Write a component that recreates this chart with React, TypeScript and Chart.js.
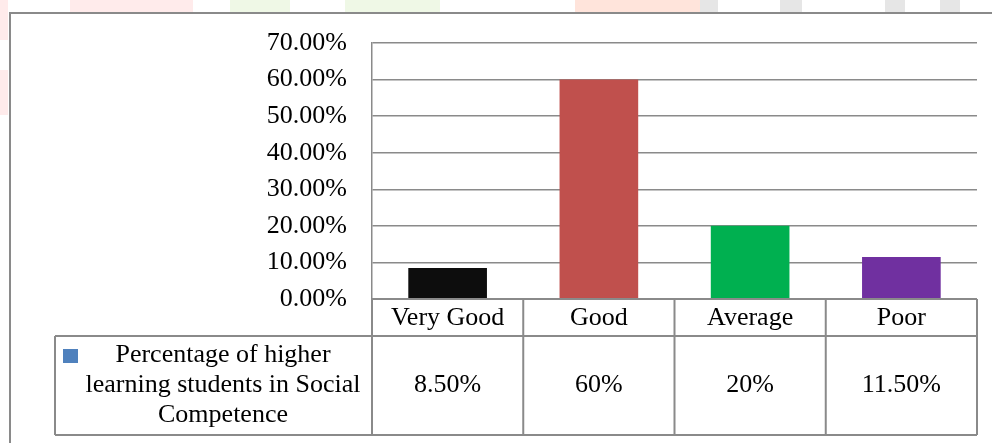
import React, { useEffect, useRef } from 'react';
import { Chart, registerables } from 'chart.js';

Chart.register(...registerables);

const categories = ['Very Good', 'Good', 'Average', 'Poor'];
const values = [8.5, 60, 20, 11.5];
const valueLabels = ['8.50%', '60%', '20%', '11.50%'];
const barColors = ['#0D0D0D', '#C0504D', '#00B050', '#7030A0'];
const seriesNameLines = ['Percentage of higher', 'learning students in Social', 'Competence'];
const seriesKeyColor = '#4F81BD';
const yMax = 70;
const yStep = 10;

const FONT = '"Liberation Serif", "Times New Roman", serif';
const FONT_SIZE = 26;
const LINE = '#8a8a8a';

const tablePlugin = {
  id: 'dataTable',
  beforeDraw(chart: any) {
    const { ctx } = chart;
    ctx.save();
    // faint watermark fragments at the edges
    ctx.fillStyle = 'rgba(255,215,215,0.5)';
    ctx.fillRect(0, 0, 8, 40);
    ctx.fillRect(0, 70, 8, 45);
    ctx.fillRect(70, 0, 123, 12);
    ctx.fillStyle = 'rgba(255,205,190,0.55)';
    ctx.fillRect(575, 0, 125, 12);
    ctx.fillStyle = 'rgba(228,243,214,0.6)';
    ctx.fillRect(230, 0, 60, 12);
    ctx.fillRect(345, 0, 95, 12);
    ctx.fillStyle = 'rgba(200,200,200,0.45)';
    ctx.fillRect(700, 0, 18, 12);
    ctx.fillRect(780, 0, 22, 12);
    ctx.fillRect(885, 0, 20, 12);
    ctx.fillRect(940, 0, 20, 12);
    ctx.restore();
  },
  afterDraw(chart: any) {
    const { ctx, chartArea, scales } = chart;
    const x = scales.x;
    const n = categories.length;
    const left = chartArea.left;
    const right = chartArea.right;
    const tableTop = chartArea.bottom;
    const headerBottom = tableTop + 37;
    const tableBottom = 435;
    const legendLeft = 55;
    const colW = (right - left) / n;

    ctx.save();
    // outer frame
    ctx.strokeStyle = LINE;
    ctx.lineWidth = 2;
    ctx.beginPath();
    ctx.moveTo(10, 443);
    ctx.lineTo(10, 13);
    ctx.lineTo(992, 13);
    ctx.stroke();

    // table lines
    ctx.beginPath();
    ctx.moveTo(left, tableTop);
    ctx.lineTo(right, tableTop);
    ctx.moveTo(legendLeft, headerBottom);
    ctx.lineTo(right, headerBottom);
    ctx.moveTo(legendLeft, tableBottom);
    ctx.lineTo(right, tableBottom);
    for (let i = 0; i <= n; i++) {
      const xx = left + i * colW;
      ctx.moveTo(xx, tableTop);
      ctx.lineTo(xx, tableBottom);
    }
    ctx.moveTo(legendLeft, headerBottom);
    ctx.lineTo(legendLeft, tableBottom);
    ctx.stroke();

    // texts
    ctx.fillStyle = '#000';
    ctx.font = `${FONT_SIZE}px ${FONT}`;
    ctx.textAlign = 'center';
    ctx.textBaseline = 'middle';
    const hy = (tableTop + headerBottom) / 2 + 1;
    const vy = (headerBottom + tableBottom) / 2;
    categories.forEach((c, i) => {
      const cx = x.getPixelForValue(i);
      ctx.fillText(c, cx, hy);
      ctx.fillText(valueLabels[i], cx, vy);
    });

    // legend key + series name
    ctx.fillStyle = seriesKeyColor;
    ctx.fillRect(63, 349, 15, 14);
    ctx.fillStyle = '#000';
    const lineH = 30;
    const startY = vy - lineH;
    seriesNameLines.forEach((t, i) => {
      ctx.fillText(t, 223, startY + i * lineH);
    });
    ctx.restore();
  },
};

export default function App() {
  const ref = useRef<HTMLCanvasElement>(null);

  useEffect(() => {
    if (!ref.current) return;
    const chart = new Chart(ref.current, {
      type: 'bar',
      data: {
        labels: categories,
        datasets: [
          {
            label: seriesNameLines.join(' '),
            data: values,
            backgroundColor: barColors,
            borderWidth: 0,
            barPercentage: 0.52,
            categoryPercentage: 1,
          },
        ],
      },
      options: {
        responsive: false,
        animation: false,
        devicePixelRatio: 1,
        layout: { padding: { left: 0, top: 43, right: 15, bottom: 144 } },
        plugins: {
          legend: { display: false },
          tooltip: { enabled: false },
          title: { display: false },
        },
        scales: {
          x: { display: false },
          y: {
            min: 0,
            max: yMax,
            afterFit(scale: any) {
              scale.width = 372;
            },
            ticks: {
              stepSize: yStep,
              padding: 25,
              color: '#000',
              font: { family: FONT, size: FONT_SIZE },
              callback: (v: any) => Number(v).toFixed(2) + '%',
            },
            grid: { color: LINE, lineWidth: 1.5, drawTicks: false },
            border: { display: true, color: LINE, width: 1.5 },
          },
        },
      },
      plugins: [tablePlugin],
    });
    return () => chart.destroy();
  }, []);

  return (
    <div style={{ position: 'absolute', left: 0, top: 0, width: 992, height: 443, background: '#fff' }}>
      <canvas ref={ref} width={992} height={443} style={{ display: 'block', width: 992, height: 443 }} />
    </div>
  );
}
